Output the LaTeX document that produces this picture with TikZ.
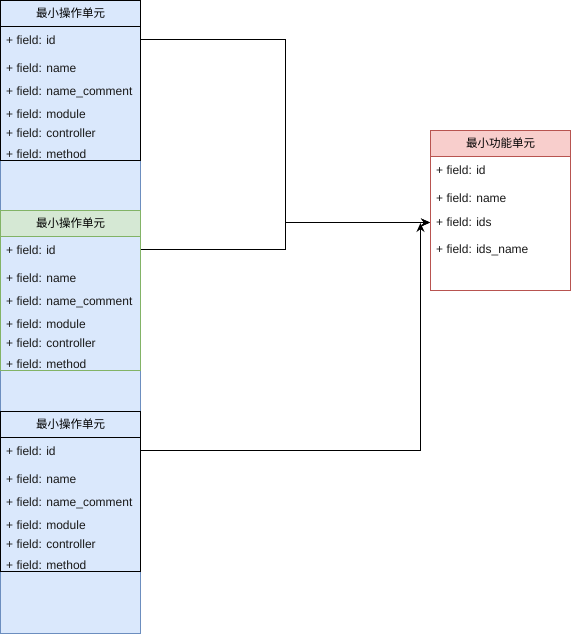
\documentclass[tikz,border=0pt]{standalone}
\usepackage{fontspec}
\setmainfont{Liberation Sans}
\newfontfamily\cjk{Noto Sans CJK SC}
\usetikzlibrary{arrows.meta}
\definecolor{bfill}{HTML}{DAE8FC}
\definecolor{bdraw}{HTML}{6C8EBF}
\definecolor{gfill}{HTML}{D5E8D4}
\definecolor{gdraw}{HTML}{82B366}
\definecolor{rfill}{HTML}{F8CECC}
\definecolor{rdraw}{HTML}{B85450}
\tikzset{
  box/.style={rectangle, inner sep=0pt, outer sep=0pt, minimum width=140pt, anchor=north west, line width=1pt},
  hdr/.style={rectangle, inner sep=0pt, outer sep=0pt, minimum width=140pt, minimum height=26pt, anchor=north west, line width=1pt, font=\cjk\fontsize{11.5}{13}\selectfont},
  fld/.style={anchor=west, inner sep=0pt, font=\fontsize{12}{14}\selectfont, text=black!90},
  conn/.style={line width=1pt, draw=black},
  tip/.style={-{Stealth[length=9pt,width=8pt,inset=3pt]}}
}
\begin{document}
\begin{tikzpicture}[x=1pt,y=-1pt]
\useasboundingbox (0,0) rectangle (571,637);
% blue background column
\node[box, minimum height=633pt, fill=bfill, draw=bdraw] (bg) at (0.5,0.5) {};
% box 1
\node[box, minimum height=160pt, draw=black] (op1) at (0.5,0.5) {};
\node[hdr, draw=black] (op1h) at (0.5,0.5) {最小操作单元};
% box 2
\node[box, minimum height=160pt, draw=gdraw] (op2) at (0.5,210.5) {};
\node[hdr, draw=gdraw, fill=gfill] (op2h) at (0.5,210.5) {最小操作单元};
% box 3
\node[box, minimum height=160pt, draw=black] (op3) at (0.5,411.5) {};
\node[hdr, draw=black] (op3h) at (0.5,411.5) {最小操作单元};
% function box
\node[box, minimum height=160pt, draw=rdraw, fill=white] (fn) at (430.5,130.5) {};
\node[hdr, draw=rdraw, fill=rfill] (fnh) at (430.5,130.5) {最小功能单元};
% fields
\foreach \b/\o in {a/0,b/210,c/411}{
  \node[fld] (\b id) at (6,40+\o) {+ field: id};
  \node[fld] (\b name) at (6,68+\o) {+ field: name};
  \node[fld] (\b nc) at (6,92+\o) {+ field: name\_comment};
  \node[fld] (\b mod) at (6,114+\o) {+ field: module};
  \node[fld] (\b ctl) at (6,133+\o) {+ field: controller};
  \node[fld] (\b met) at (6,154+\o) {+ field: method};
}
\node[fld] (fid) at (436,170) {+ field: id};
\node[fld] (fname) at (436,198) {+ field: name};
\node[fld] (fids) at (436,222) {+ field: ids};
\node[fld] (fidsn) at (436,250) {+ field: ids\_name};
% connectors
\coordinate (t1) at (430,222.5);
\coordinate (t2) at (420.5,223);
\coordinate (j1) at (285.5,222.5);
\draw[conn, tip] (op1.east |- 0,39.5) -| (j1) -- (t1);
\draw[conn, tip] (op2.east |- 0,249.5) -| (j1) -- (t1);
\draw[conn, tip] (op3.east |- 0,450.5) -| (t2);
\end{tikzpicture}
\end{document}
